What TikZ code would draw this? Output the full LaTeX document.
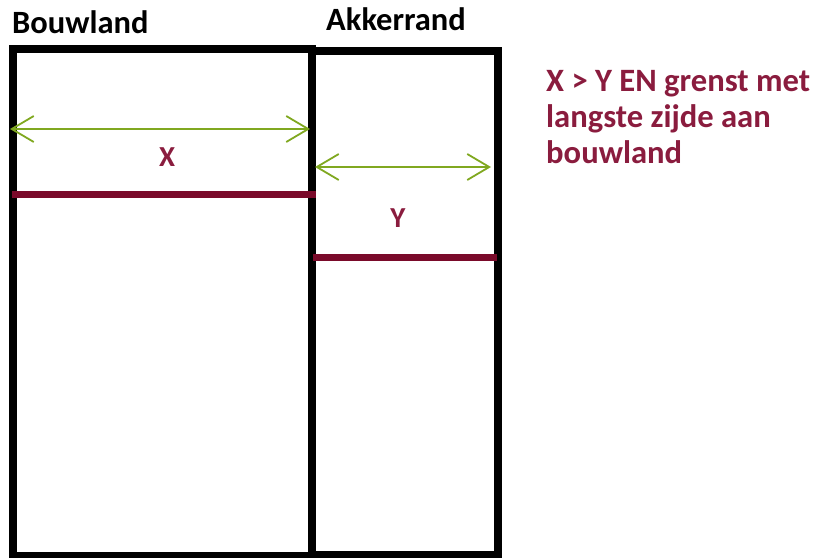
\documentclass[tikz,border=0pt]{standalone}
\usepackage{fontspec}
\setmainfont{Carlito}
\usetikzlibrary{arrows.meta}
\definecolor{wijn}{HTML}{7A0A2A}
\definecolor{tekstrood}{HTML}{8A1C3E}
\definecolor{gras}{HTML}{80A820}
\begin{document}
\begin{tikzpicture}[x=1pt,y=-1pt,
    rand/.style={line width=8pt},
    maat/.style={gras, line width=1.8pt,
      {Straight Barb[length=22pt,width=26pt]}-{Straight Barb[length=22pt,width=26pt]}},
    grens/.style={wijn, line width=7pt},
    kop/.style={font=\bfseries\fontsize{32.5}{36}\selectfont, anchor=base west, inner sep=0pt},
    letter/.style={tekstrood, font=\bfseries\fontsize{29}{34}\selectfont, inner sep=0pt}]
  \useasboundingbox (0,0) rectangle (816,557);
  % percelen
  \draw[rand] (12.5,49) rectangle (312,556);
  \draw[rand] (312,51) rectangle (497.5,555);
  \node[kop] (bouwland) at (12,33) {Bouwland};
  \node[kop] (akkerrand) at (326,30) {Akkerrand};
  % maat X
  \coordinate (xlinks) at (10,129);
  \coordinate (xrechts) at (310,129);
  \draw[maat] (xlinks) -- (xrechts);
  \node[letter] (xlabel) at (167,157) {X};
  \coordinate (glinks) at (12,194);
  \coordinate (grechts) at (316,194);
  \draw[grens] (glinks) -- (grechts);
  % maat Y
  \coordinate (ylinks) at (315,167);
  \coordinate (yrechts) at (491,167);
  \draw[maat] (ylinks) -- (yrechts);
  \node[letter] (ylabel) at (398,218) {Y};
  \coordinate (hlinks) at (313,257);
  \coordinate (hrechts) at (497,257);
  \draw[grens] (hlinks) -- (hrechts);
  % uitleg
  \node[tekstrood, font=\bfseries\fontsize{32.6}{36}\selectfont, anchor=north west,
    align=left, inner sep=0pt] (uitleg) at (546,70)
    {X > Y EN grenst met\\langste zijde aan\\bouwland};
\end{tikzpicture}
\end{document}
